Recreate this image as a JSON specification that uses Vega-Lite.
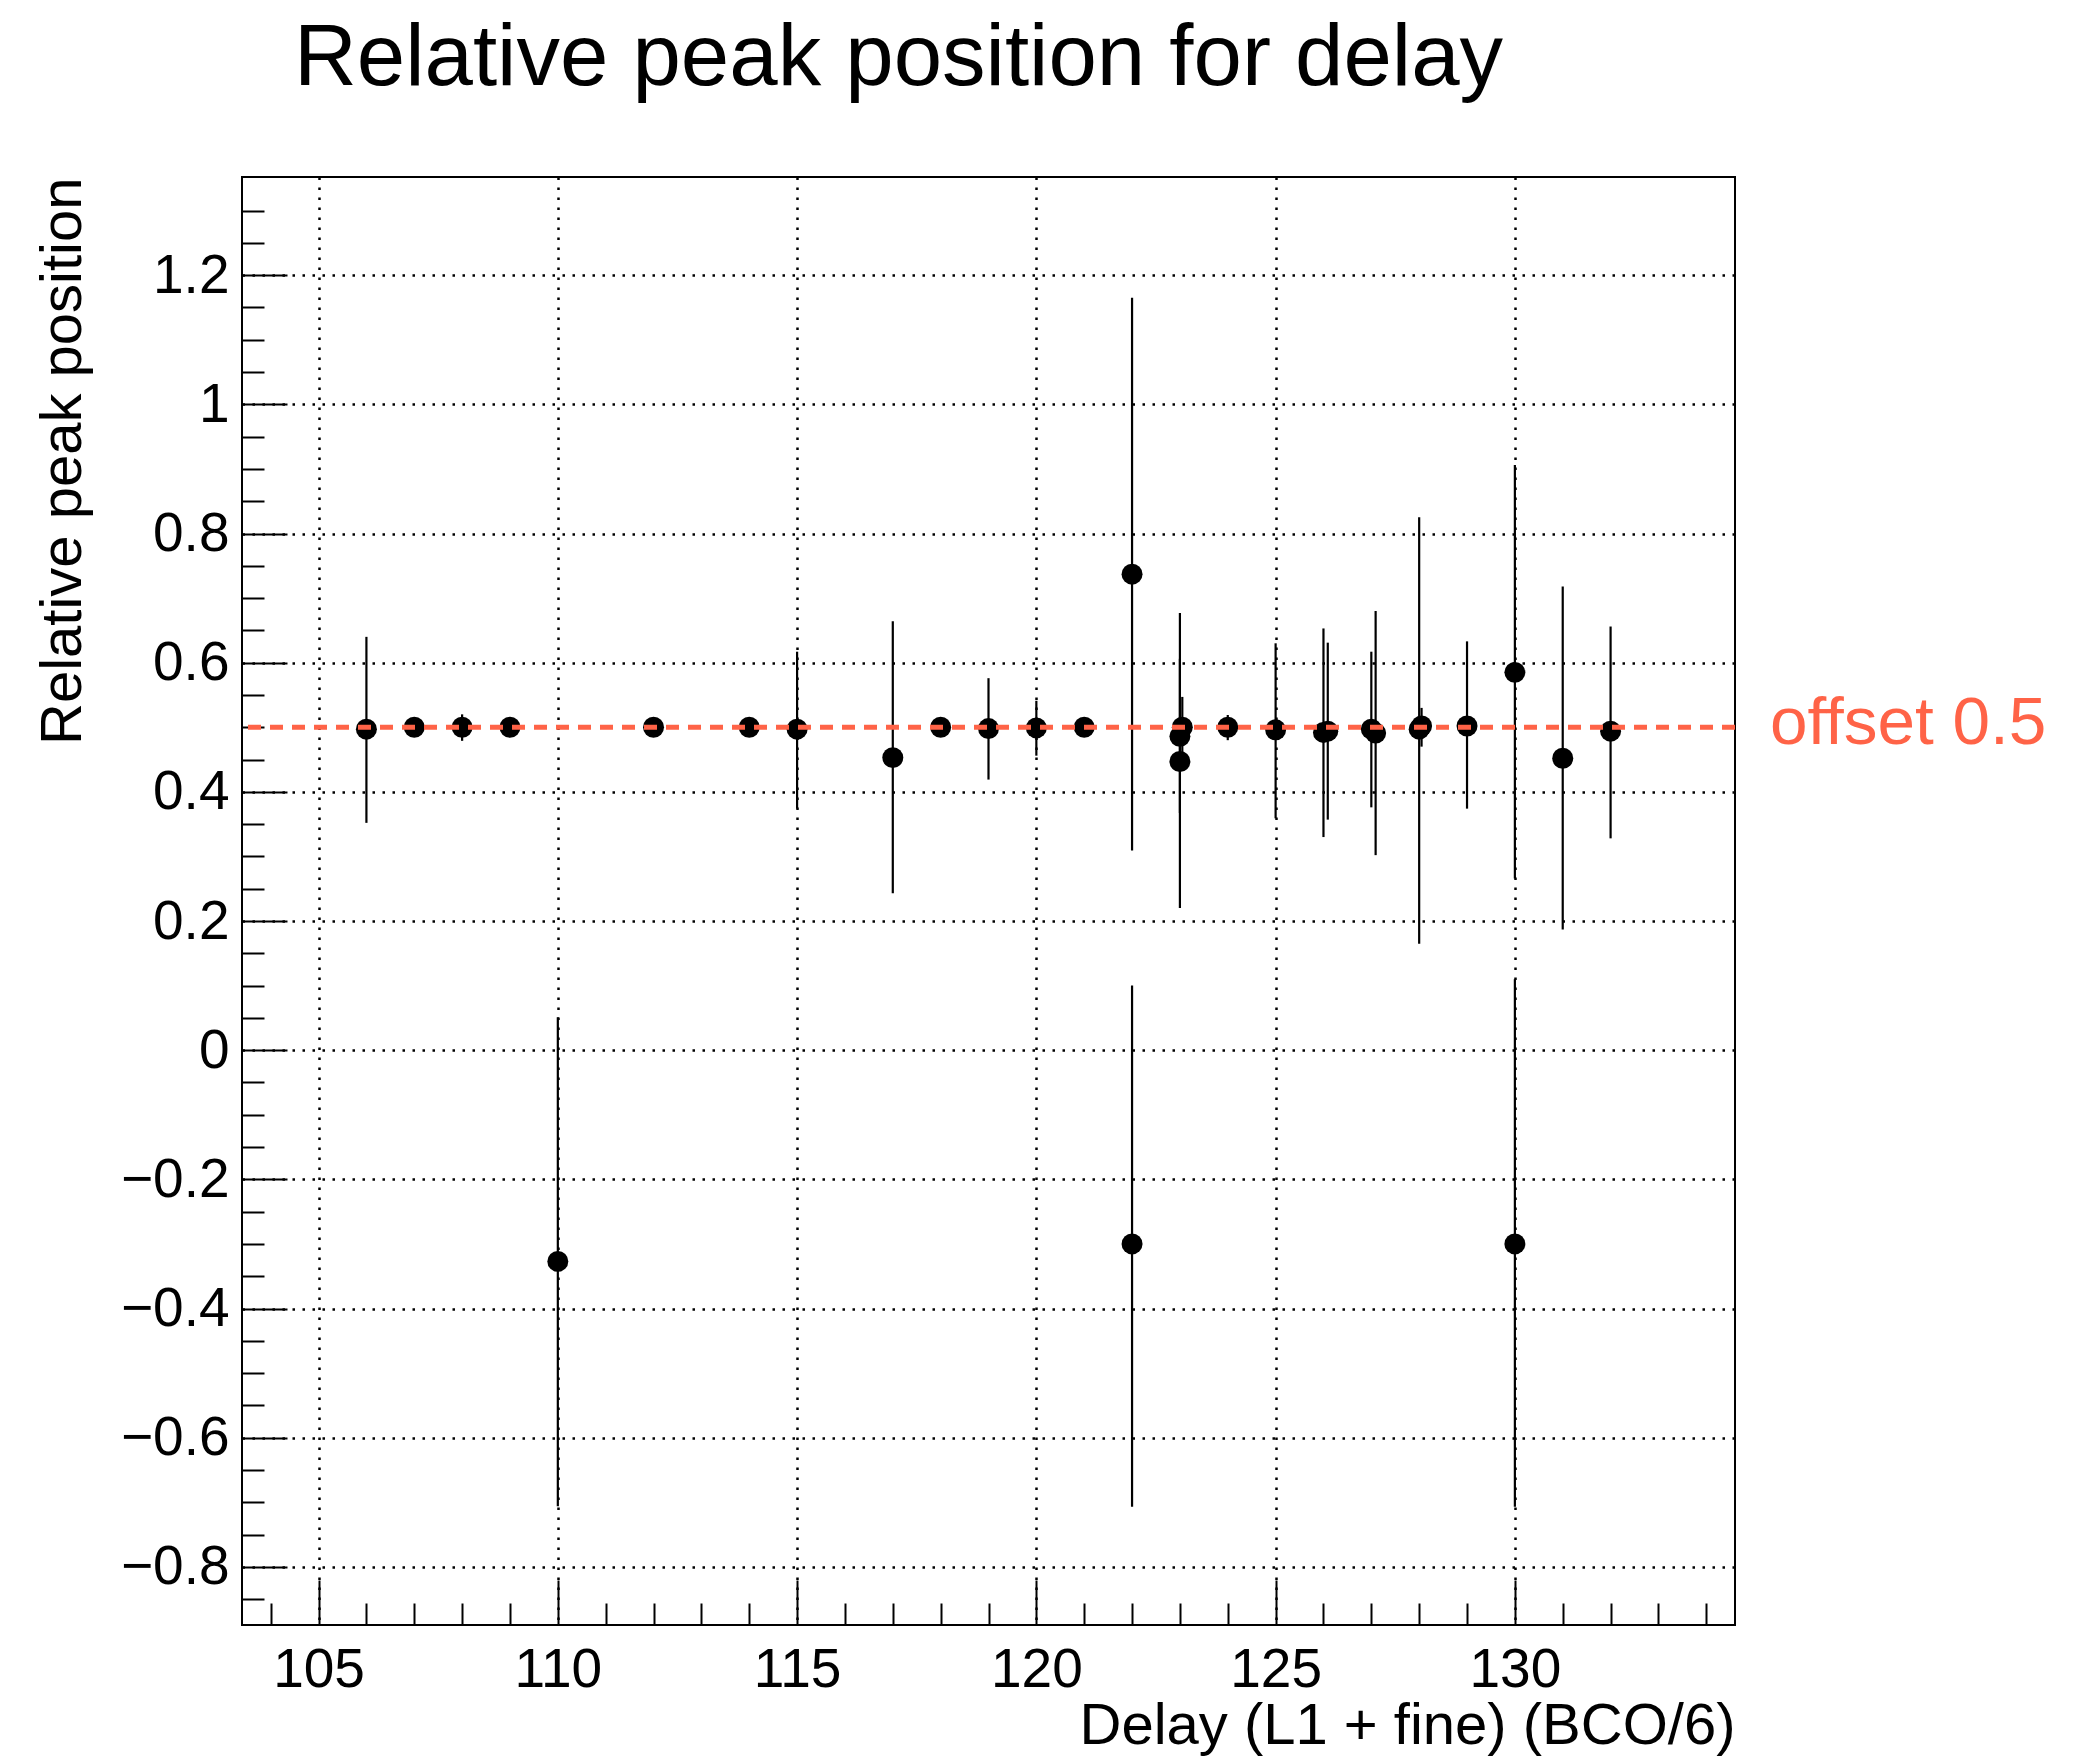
{
  "$schema": "https://vega.github.io/schema/vega-lite/v6.json",
  "width": 1493,
  "height": 1448,
  "autosize": {"type": "none"},
  "padding": {"left": 242, "top": 177, "right": 341, "bottom": 131},
  "background": "white",
  "config": {
    "view": {"stroke": "black", "strokeWidth": 2},
    "font": "Liberation Sans"
  },
  "title": {
    "text": "Relative peak position for delay",
    "font": "Liberation Sans",
    "fontSize": 87,
    "fontWeight": "normal",
    "color": "black",
    "anchor": "start",
    "frame": "group",
    "dx": 52,
    "offset": 5,
    "baseline": "alphabetic"
  },
  "datasets": {
    "points": [
      {"delay": 106, "pos": 0.497, "lo": 0.352, "hi": 0.640},
      {"delay": 107, "pos": 0.500, "lo": 0.497, "hi": 0.503},
      {"delay": 108, "pos": 0.500, "lo": 0.479, "hi": 0.520},
      {"delay": 109, "pos": 0.500, "lo": 0.497, "hi": 0.503},
      {"delay": 110, "pos": -0.327, "lo": -0.706, "hi": 0.051},
      {"delay": 112, "pos": 0.500, "lo": 0.497, "hi": 0.503},
      {"delay": 114, "pos": 0.500, "lo": 0.497, "hi": 0.503},
      {"delay": 115, "pos": 0.497, "lo": 0.374, "hi": 0.617},
      {"delay": 117, "pos": 0.453, "lo": 0.243, "hi": 0.664},
      {"delay": 118, "pos": 0.500, "lo": 0.497, "hi": 0.503},
      {"delay": 119, "pos": 0.498, "lo": 0.419, "hi": 0.576},
      {"delay": 120, "pos": 0.499, "lo": 0.456, "hi": 0.541},
      {"delay": 121, "pos": 0.500, "lo": 0.497, "hi": 0.503},
      {"delay": 122, "pos": 0.737, "lo": 0.309, "hi": 1.165},
      {"delay": 122, "pos": -0.300, "lo": -0.707, "hi": 0.100},
      {"delay": 123, "pos": 0.447, "lo": 0.220, "hi": 0.677},
      {"delay": 123, "pos": 0.486, "lo": 0.367, "hi": 0.606},
      {"delay": 123.05, "pos": 0.500, "lo": 0.453, "hi": 0.547},
      {"delay": 124, "pos": 0.500, "lo": 0.480, "hi": 0.519},
      {"delay": 125, "pos": 0.496, "lo": 0.359, "hi": 0.630},
      {"delay": 126, "pos": 0.492, "lo": 0.330, "hi": 0.653},
      {"delay": 126.09, "pos": 0.494, "lo": 0.357, "hi": 0.631},
      {"delay": 127, "pos": 0.497, "lo": 0.376, "hi": 0.617},
      {"delay": 127.09, "pos": 0.491, "lo": 0.302, "hi": 0.680},
      {"delay": 128, "pos": 0.497, "lo": 0.165, "hi": 0.825},
      {"delay": 128.05, "pos": 0.502, "lo": 0.470, "hi": 0.530},
      {"delay": 129, "pos": 0.502, "lo": 0.374, "hi": 0.633},
      {"delay": 130, "pos": 0.585, "lo": 0.266, "hi": 0.906},
      {"delay": 130, "pos": -0.300, "lo": -0.707, "hi": 0.110},
      {"delay": 131, "pos": 0.452, "lo": 0.187, "hi": 0.718},
      {"delay": 132, "pos": 0.494, "lo": 0.328, "hi": 0.656}
    ],
    "offsetline": [{"offset": 0.5}],
    "offsetlabel": [{"delay": 135.33, "pos": 0.5, "label": "offset 0.5"}]
  },
  "layer": [
    {
      "data": {"name": "points"},
      "mark": {"type": "rule", "color": "black", "strokeWidth": 2.2},
      "encoding": {
        "x": {
          "field": "delay",
          "type": "quantitative",
          "scale": {"domain": [103.4, 134.6], "nice": false, "zero": false},
          "axis": {
            "values": [104,105,106,107,108,109,110,111,112,113,114,115,116,117,118,119,120,121,122,123,124,125,126,127,128,129,130,131,132,133,134],
            "tickCount": 200,
            "domain": false,
            "tickColor": "black",
            "tickWidth": 2,
            "tickSize": {"condition": {"test": "datum.value % 5 === 0", "value": -45}, "value": -22},
            "grid": true,
            "gridColor": "black",
            "gridWidth": 2.5,
            "gridDash": [2.5, 7.5],
            "gridOpacity": {"condition": {"test": "datum.value % 5 === 0", "value": 1}, "value": 0},
            "labelExpr": "datum.value % 5 === 0 ? format(datum.value, 'd') : ''",
            "labelFont": "Liberation Sans",
            "labelFontSize": 55,
            "labelColor": "black",
            "labelPadding": 63,
            "labelOverlap": false,
            "labelFlush": false,
            "title": "Delay (L1 + fine) (BCO/6)",
            "titleFont": "Liberation Sans",
            "titleFontSize": 58,
            "titleFontWeight": "normal",
            "titleColor": "black",
            "titleAnchor": "end",
            "titlePadding": -23
          }
        },
        "y": {
          "field": "lo",
          "type": "quantitative",
          "scale": {"domain": [-0.89, 1.352], "nice": false, "zero": false},
          "axis": {
            "values": [-0.85,-0.8,-0.75,-0.7,-0.65,-0.6,-0.55,-0.5,-0.45,-0.4,-0.35,-0.3,-0.25,-0.2,-0.15,-0.1,-0.05,0,0.05,0.1,0.15,0.2,0.25,0.3,0.35,0.4,0.45,0.5,0.55,0.6,0.65,0.7,0.75,0.8,0.85,0.9,0.95,1,1.05,1.1,1.15,1.2,1.25,1.3],
            "tickCount": 200,
            "domain": false,
            "tickColor": "black",
            "tickWidth": 2,
            "tickSize": {"condition": {"test": "abs(datum.value*5 - round(datum.value*5)) < 0.001", "value": -45}, "value": -22},
            "grid": true,
            "gridColor": "black",
            "gridWidth": 2.5,
            "gridDash": [2.5, 7.5],
            "gridOpacity": {"condition": {"test": "abs(datum.value*5 - round(datum.value*5)) < 0.001", "value": 1}, "value": 0},
            "labelExpr": "abs(datum.value*5 - round(datum.value*5)) < 0.001 ? format(datum.value, '~g') : ''",
            "labelFont": "Liberation Sans",
            "labelFontSize": 55,
            "labelColor": "black",
            "labelPadding": 58,
            "labelOverlap": false,
            "labelFlush": false,
            "title": "Relative peak position",
            "titleFont": "Liberation Sans",
            "titleFontSize": 58,
            "titleFontWeight": "normal",
            "titleColor": "black",
            "titleAnchor": "end",
            "titlePadding": 28
          }
        },
        "y2": {"field": "hi"}
      }
    },
    {
      "data": {"name": "points"},
      "mark": {"type": "point", "shape": "circle", "filled": true, "size": 440, "color": "black", "opacity": 1},
      "encoding": {
        "x": {"field": "delay", "type": "quantitative"},
        "y": {"field": "pos", "type": "quantitative"}
      }
    },
    {
      "data": {"name": "offsetline"},
      "mark": {"type": "rule", "color": "#ff6347", "strokeWidth": 5, "strokeDash": [13, 9]},
      "encoding": {
        "y": {"field": "offset", "type": "quantitative"}
      }
    },
    {
      "data": {"name": "offsetlabel"},
      "mark": {"type": "text", "align": "left", "baseline": "middle", "font": "Liberation Sans", "fontSize": 67.5, "dy": -3, "color": "#ff6347", "clip": false},
      "encoding": {
        "x": {"field": "delay", "type": "quantitative"},
        "y": {"field": "pos", "type": "quantitative"},
        "text": {"field": "label"}
      }
    }
  ]
}
